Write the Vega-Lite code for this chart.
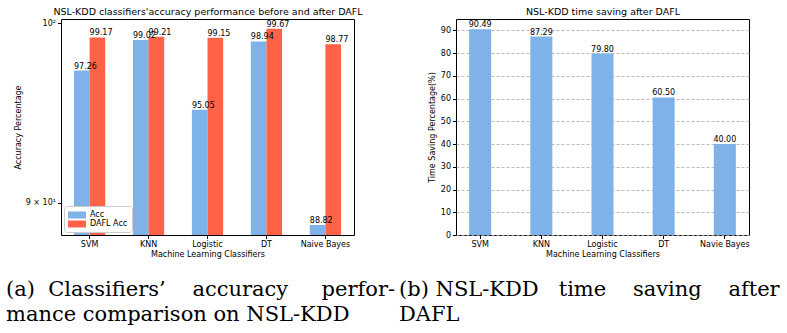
{
  "$schema": "https://vega.github.io/schema/vega-lite/v6.json",
  "padding": {"left": 5, "top": 5, "right": 0, "bottom": 0},
  "autosize": {"type": "pad"},
  "background": "white",
  "config": {
    "font": "DejaVu Sans",
    "view": {"stroke": "black", "strokeWidth": 1},
    "axis": {
      "labelFontSize": 8, "titleFontSize": 8, "labelColor": "black", "titleColor": "black",
      "tickColor": "black", "domain": false, "titleFontWeight": "normal", "grid": false,
      "tickSize": 3.5, "labelPadding": 2, "titlePadding": 2, "labelFont": "DejaVu Sans", "titleFont": "DejaVu Sans"
    },
    "title": {"fontWeight": "normal", "color": "black"},
    "legend": {
      "orient": "bottom-left", "offset": 3, "padding": 4, "fillColor": "white",
      "strokeColor": "#cccccc", "cornerRadius": 3, "labelFontSize": 8, "labelColor": "black",
      "symbolType": "M-1,-0.7H2.6V0.7H-1Z", "symbolSize": 100, "symbolStrokeWidth": 0,
      "labelOffset": 12, "rowPadding": 0
    }
  },
  "bounds": "flush",
  "spacing": 102,
  "hconcat": [
    {
      "width": 293,
      "height": 216,
      "title": {
        "text": ["(a)\u00a0 Classifiers’\u00a0\u00a0\u00a0 accuracy\u00a0\u00a0\u00a0\u00a0 perfor-", "mance comparison on NSL-KDD"],
        "orient": "bottom", "anchor": "start", "frame": "group", "dx": -55, "offset": 20,
        "font": "DejaVu Serif", "fontSize": 21, "fontWeight": "normal", "lineHeight": 25, "color": "black"
      },
      "data": {"values": [
        {"classifier": "SVM", "series": "Acc", "value": 97.26},
        {"classifier": "SVM", "series": "DAFL Acc", "value": 99.17},
        {"classifier": "KNN", "series": "Acc", "value": 99.02},
        {"classifier": "KNN", "series": "DAFL Acc", "value": 99.21},
        {"classifier": "Logistic", "series": "Acc", "value": 95.05},
        {"classifier": "Logistic", "series": "DAFL Acc", "value": 99.15},
        {"classifier": "DT", "series": "Acc", "value": 98.94},
        {"classifier": "DT", "series": "DAFL Acc", "value": 99.67},
        {"classifier": "Naive Bayes", "series": "Acc", "value": 88.82},
        {"classifier": "Naive Bayes", "series": "DAFL Acc", "value": 98.77}
      ]},
      "encoding": {
        "xOffset": {"field": "series", "type": "nominal", "sort": null, "scale": {"paddingInner": 0, "paddingOuter": 0}},
        "y": {
          "field": "value", "type": "quantitative",
          "scale": {"type": "log", "domain": [88.3, 100.25], "nice": false, "zero": false},
          "axis": {
            "title": "Accuracy Percentage", "values": [90, 100], "titlePadding": 3,
            "labelExpr": "datum.value == 100 ? '10²' : '9 × 10¹'"
          }
        }
      },
      "layer": [
        {
          "mark": {"type": "bar", "clip": true},
          "encoding": {
            "x": {
              "field": "classifier", "type": "nominal", "sort": null,
              "scale": {"paddingInner": 0.47, "paddingOuter": 0.22},
              "axis": {"title": "Machine Learning Classifiers", "labelAngle": 0, "orient": "bottom"}
            },
            "y2": {"datum": 88.3},
            "color": {
              "field": "series", "type": "nominal", "sort": null,
              "scale": {"domain": ["Acc", "DAFL Acc"], "range": ["#7EB2E8", "#FF6347"]},
              "legend": {"title": null}
            }
          }
        },
        {
          "mark": {"type": "text", "align": "left", "baseline": "bottom", "dx": -7.8, "fontSize": 8, "color": "black"},
          "encoding": {
            "x": {
              "field": "classifier", "type": "nominal", "sort": null,
              "scale": {"paddingInner": 0.47, "paddingOuter": 0.22},
              "axis": {
                "orient": "top", "title": "NSL-KDD classifiers'accuracy performance before and after DAFL",
                "labels": false, "ticks": false, "titleFontSize": 9.5, "titlePadding": 3
              }
            },
            "text": {"field": "value", "type": "quantitative", "format": ".2f"}
          }
        }
      ],
      "resolve": {"axis": {"x": "independent"}}
    },
    {
      "width": 293,
      "height": 216,
      "title": {
        "text": ["(b) NSL-KDD\u00a0\u00a0 time\u00a0\u00a0\u00a0 saving\u00a0\u00a0\u00a0 after", "DAFL"],
        "orient": "bottom", "anchor": "start", "frame": "group", "dx": -57, "offset": 20,
        "font": "DejaVu Serif", "fontSize": 21, "fontWeight": "normal", "lineHeight": 25, "color": "black"
      },
      "data": {"values": [
        {"classifier": "SVM", "saving": 90.49},
        {"classifier": "KNN", "saving": 87.29},
        {"classifier": "Logistic", "saving": 79.80},
        {"classifier": "DT", "saving": 60.50},
        {"classifier": "Navie Bayes", "saving": 40.00}
      ]},
      "encoding": {
        "y": {
          "field": "saving", "type": "quantitative",
          "scale": {"domain": [0, 95.01], "nice": false, "zero": true},
          "axis": {
            "title": "Time Saving Percentage(%)", "values": [0, 10, 20, 30, 40, 50, 60, 70, 80, 90],
            "titlePadding": 4, "grid": true, "gridDash": [3, 2], "gridColor": "#a8a8a8", "gridWidth": 0.8
          }
        }
      },
      "layer": [
        {
          "mark": {"type": "bar", "color": "#7EB2E8"},
          "encoding": {
            "x": {
              "field": "classifier", "type": "nominal", "sort": null,
              "scale": {"paddingInner": 0.64, "paddingOuter": 0.215},
              "axis": {"title": "Machine Learning Classifiers", "labelAngle": 0, "orient": "bottom"}
            }
          }
        },
        {
          "mark": {"type": "text", "align": "center", "baseline": "bottom", "fontSize": 8, "color": "black"},
          "encoding": {
            "x": {
              "field": "classifier", "type": "nominal", "sort": null,
              "scale": {"paddingInner": 0.64, "paddingOuter": 0.215},
              "axis": {
                "orient": "top", "title": "NSL-KDD time saving after DAFL",
                "labels": false, "ticks": false, "titleFontSize": 9.5, "titlePadding": 3
              }
            },
            "text": {"field": "saving", "type": "quantitative", "format": ".2f"}
          }
        }
      ],
      "resolve": {"axis": {"x": "independent"}}
    }
  ]
}
